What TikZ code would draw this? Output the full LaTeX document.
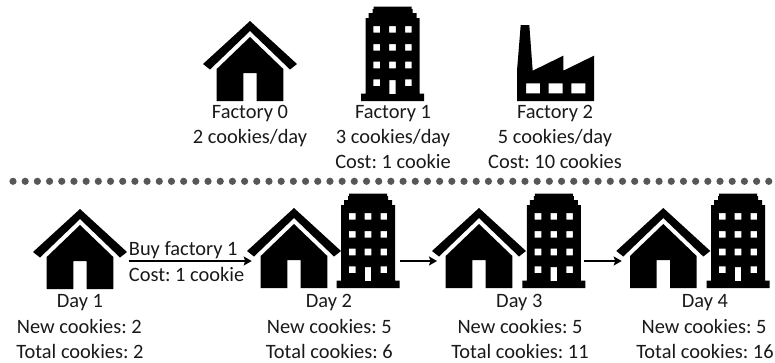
\documentclass[tikz,border=0pt]{standalone}
\usepackage{fontspec}
\usetikzlibrary{arrows.meta}
\setmainfont{Carlito}
\frenchspacing
\tikzset{
  lbl/.style={inner sep=0pt,anchor=base,text=black!90,font=\fontsize{20.4}{24}\selectfont\frenchspacing},
  lbll/.style={lbl,anchor=base west},
  flow/.style={draw=black,line width=1.6pt,-{Stealth[length=8pt,width=9pt,inset=1.5pt]}},
  sep/.style={draw=black!66,line width=7.2pt,line cap=round,dash pattern=on 0pt off 12.19pt},
  pics/houseicon/.style={code={
    \fill (-47,-37) -- (0,-80) -- (47,-37) -- (40,-31.5) -- (0,-70) -- (-40,-31.5) -- cycle;
    \fill (0,-64) -- (-33.3,-32) -- (-33.3,0) -- (-6.7,0) -- (-6.7,-28) -- (6.7,-28) -- (6.7,0) -- (33.3,0) -- (33.3,-32) -- cycle;
  }},
  pics/towericon/.style={code={
    \fill[even odd rule]
      (-31.5,0) -- (-31.5,-7.5) -- (-27,-7.5) -- (-27,-83) -- (-24,-83) -- (-24,-88) -- (-20,-88) -- (-20,-92) -- (-19,-92) -- (-19,-94.3)
      -- (19,-94.3) -- (19,-92) -- (20,-92) -- (20,-88) -- (24,-88) -- (24,-83) -- (27,-83) -- (27,-7.5) -- (31.5,-7.5) -- (31.5,0) -- cycle
      (-3.2,-21) rectangle (3.2,-7)
      \foreach \cx in {-15.8,0,15.8}{ \foreach \cy in {-71.7,-53.7,-36}{
        (\cx-3.3,\cy-3.3) rectangle (\cx+3.3,\cy+3.3) } }
      \foreach \cx in {-15.8,15.8}{ (\cx-3.3,-21.6) rectangle (\cx+3.3,-15) };
  }},
  pics/planticon/.style={code={
    \fill[even odd rule]
      (0,0) -- (0,-30.3) -- (3.7,-76) -- (12.3,-76) -- (15.7,-30.3) -- (46.3,-45.3) -- (46.3,-30.3) -- (77,-45.3) -- (77,0) -- cycle
      (9,-17.7) rectangle (23,-7.7)
      (31.7,-17.7) rectangle (45.7,-7.7)
      (54.3,-17.7) rectangle (68.3,-7.7);
  }}
}
\begin{document}
\begin{tikzpicture}[x=1pt,y=-1pt]
\useasboundingbox (0,0) rectangle (775,362);
% catalogue
\pic at (250,101) {houseicon};
\pic at (392.5,101) {towericon};
\pic at (517,101) {planticon};
\node[lbl] (f0) at (250,118) {Factory 0};
\node[lbl] (f0r) at (250,143) {2 cookies/day};
\node[lbl] (f1) at (393,118) {Factory 1};
\node[lbl] (f1r) at (393,143) {3 cookies/day};
\node[lbl] (f1c) at (393,168.5) {Cost: 1 cookie};
\node[lbl] (f2) at (555,118) {Factory 2};
\node[lbl] (f2r) at (555,143) {5 cookies/day};
\node[lbl] (f2c) at (555,168.5) {Cost: 10 cookies};
% separator
\coordinate (sepl) at (13,181.3);
\coordinate (sepr) at (769.5,181.3);
\draw[sep] (sepl) -- (sepr);
% timeline icons
\pic at (80,289) {houseicon};
\pic at (294,288) {houseicon};
\pic at (368,288) {towericon};
\pic at (479,288) {houseicon};
\pic at (553.8,288) {towericon};
\pic at (663.3,288) {houseicon};
\pic at (738,288) {towericon};
% connectors
\coordinate (a1s) at (128.7,261);
\coordinate (a1e) at (251.7,261);
\coordinate (a2s) at (400,261);
\coordinate (a2e) at (437,261);
\coordinate (a3s) at (584,261);
\coordinate (a3e) at (621.7,261);
\draw[flow] (a1s) -- (a1e);
\draw[flow] (a2s) -- (a2e);
\draw[flow] (a3s) -- (a3e);
\node[lbll] (buy) at (128.7,255) {Buy factory 1};
\node[lbll] (cost) at (128.7,281.3) {Cost: 1 cookie};
% day labels
\node[lbl] (d1) at (80,307) {Day 1};
\node[lbl] (d1n) at (79.3,333) {New cookies: 2};
\node[lbl] (d1t) at (80,358) {Total cookies: 2};
\node[lbl] (d2) at (329,307) {Day 2};
\node[lbl] (d2n) at (329.3,333) {New cookies: 5};
\node[lbl] (d2t) at (329.3,358) {Total cookies: 6};
\node[lbl] (d3) at (519.3,307) {Day 3};
\node[lbl] (d3n) at (520,333) {New cookies: 5};
\node[lbl] (d3t) at (520,358) {Total cookies: 11};
\node[lbl] (d4) at (705,307) {Day 4};
\node[lbl] (d4n) at (704,333) {New cookies: 5};
\node[lbl] (d4t) at (705,358) {Total cookies: 16};
\end{tikzpicture}
\end{document}
